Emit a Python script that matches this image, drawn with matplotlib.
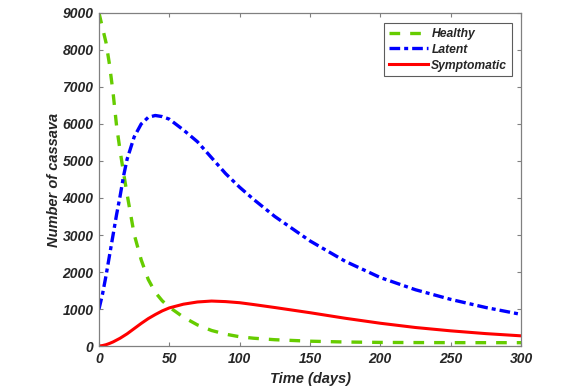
import numpy as np
import matplotlib.pyplot as plt

# time points (days) and the three compartments
days = [0, 2.5, 5, 7.5, 10, 12.5, 15, 17.5, 20, 25, 30, 35, 40, 45, 50,
        60, 70, 80, 90, 100, 110, 125, 150, 175, 200, 225, 250, 275, 300]
healthy = [9000, 8600, 8200, 7600, 6850, 5950, 5280, 4670, 4100, 3020, 2330,
           1800, 1450, 1220, 1050, 780, 570, 420, 320, 250, 210, 170, 130,
           108, 97, 93, 91, 90, 90]
latent = [1000, 1400, 1900, 2450, 3000, 3550, 4050, 4600, 5050, 5650, 6000,
          6180, 6230, 6200, 6130, 5840, 5520, 5090, 4660, 4290, 3960, 3500,
          2840, 2290, 1850, 1520, 1260, 1040, 855]
symptomatic = [0, 12, 35, 70, 110, 160, 210, 270, 330, 470, 610, 740, 850,
               950, 1030, 1130, 1190, 1215, 1200, 1170, 1120, 1040, 900, 750,
               615, 500, 410, 335, 275]

txt = '#262626'
ax_col = '#808080'

plt.rcParams['font.family'] = ['Liberation Sans', 'DejaVu Sans']

fig = plt.figure(figsize=(5.64, 3.90), dpi=100)
ax = fig.add_axes([0.1755, 0.1128, 0.7483, 0.8539])

ax.plot(days, healthy, '--', color='#66cc00', lw=2.4, dashes=(3.2, 3), label='Healthy')
ax.plot(days, latent, '-.', color='#0000ff', lw=2.4, dashes=(3.2, 1.2, 1.2, 1.2), label='Latent')
ax.plot(days, symptomatic, '-', color='#ff0000', lw=2.2, label='Symptomatic')

ax.set_xlim(0, 300)
ax.set_ylim(0, 9000)
ax.set_xticks(np.arange(0, 301, 50))
ax.set_yticks(np.arange(0, 9001, 1000))

for s in ax.spines.values():
    s.set_color(ax_col)
    s.set_linewidth(0.9)
ax.tick_params(direction='in', length=3, width=0.8, color=ax_col,
               top=True, right=True, labelsize=10, labelcolor=txt, pad=4)
for lab in ax.get_xticklabels() + ax.get_yticklabels():
    lab.set_fontweight('bold')
    lab.set_fontstyle('italic')

ax.set_xlabel('Time (days)', fontsize=10.5, fontweight='bold', fontstyle='italic',
              color=txt, labelpad=4.5)
ax.set_ylabel('Number of cassava', fontsize=10.5, fontweight='bold', fontstyle='italic',
              color=txt, labelpad=1)

leg = ax.legend(loc='upper right', bbox_to_anchor=(0.979, 0.970), borderaxespad=0,
                fancybox=False, handlelength=3.2, borderpad=0.4, labelspacing=0.32,
                handletextpad=0.3,
                prop={'weight': 'bold', 'style': 'italic', 'size': 8.7})
leg.get_frame().set_edgecolor('#333333')
leg.get_frame().set_linewidth(0.8)
for t in leg.get_texts():
    t.set_color(txt)

fig.savefig('out.png', dpi=100)
